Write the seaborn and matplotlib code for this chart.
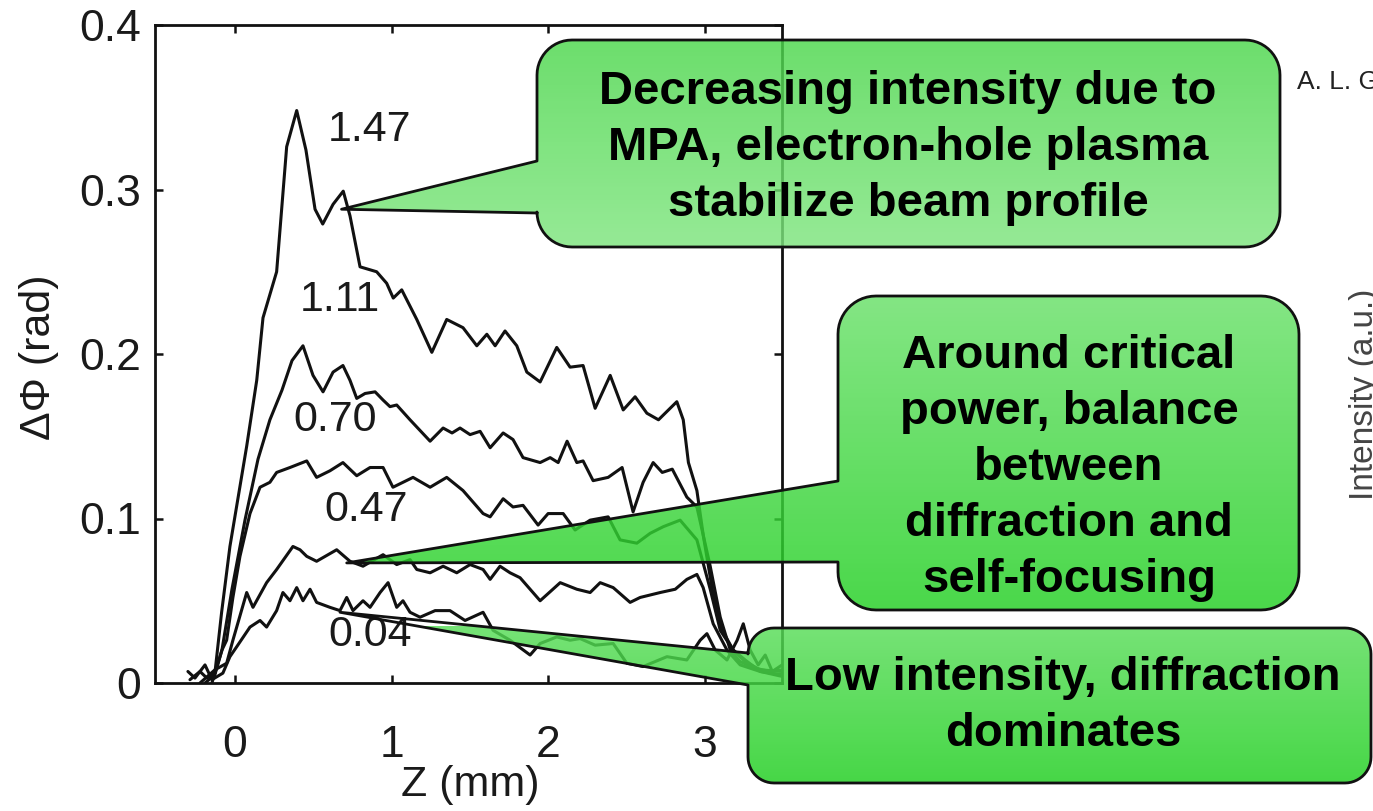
import numpy as np
import pandas as pd
import matplotlib
matplotlib.use("Agg")
import matplotlib.pyplot as plt
from matplotlib.path import Path
from matplotlib.patches import PathPatch
import seaborn as sns

# ---- data: axial position Z (mm) and nonlinear phase shift (rad) per input power ----
z_147 = [-0.287, -0.223, -0.179, -0.128, -0.085, -0.032, 0.075, 0.139, 0.179, 0.266, 0.330, 0.394,
         0.453, 0.511, 0.560, 0.626, 0.691, 0.734, 0.798, 0.904, 0.968, 1.010, 1.064, 1.160, 1.256,
         1.351, 1.455, 1.543, 1.607, 1.660, 1.723, 1.798, 1.862, 1.947, 2.053, 2.138, 2.221, 2.298,
         2.394, 2.477, 2.553, 2.628, 2.702, 2.819, 2.860, 2.893, 2.947, 2.989, 3.045, 3.109, 3.179,
         3.255, 3.351, 3.491]
phi_147 = [0.002, 0.007, 0.003, 0.006, 0.043, 0.083, 0.144, 0.184, 0.222, 0.250, 0.326, 0.348,
           0.324, 0.288, 0.279, 0.291, 0.299, 0.284, 0.253, 0.250, 0.243, 0.234, 0.239, 0.221, 0.201,
           0.221, 0.216, 0.205, 0.212, 0.205, 0.214, 0.205, 0.189, 0.183, 0.204, 0.192, 0.193, 0.167,
           0.187, 0.166, 0.174, 0.164, 0.160, 0.171, 0.160, 0.134, 0.117, 0.089, 0.057, 0.032, 0.020,
           0.014, 0.007, 0.005]

z_111 = [-0.147, -0.083, -0.019, 0.064, 0.147, 0.223, 0.300, 0.364, 0.434, 0.498, 0.562, 0.626,
         0.689, 0.734, 0.777, 0.830, 0.894, 0.945, 0.989, 1.032, 1.117, 1.245, 1.328, 1.385, 1.436,
         1.500, 1.564, 1.628, 1.711, 1.774, 1.838, 1.947, 2.011, 2.062, 2.119, 2.181, 2.221, 2.285,
         2.381, 2.470, 2.540, 2.604, 2.668, 2.726, 2.790, 2.883, 2.947, 3.032, 3.096, 3.160, 3.223,
         3.319, 3.415, 3.491]
phi_111 = [0.000, 0.020, 0.057, 0.099, 0.136, 0.160, 0.178, 0.196, 0.205, 0.187, 0.177, 0.189,
           0.193, 0.184, 0.173, 0.176, 0.177, 0.172, 0.168, 0.169, 0.160, 0.147, 0.155, 0.152, 0.155,
           0.151, 0.153, 0.143, 0.152, 0.148, 0.137, 0.134, 0.137, 0.134, 0.147, 0.134, 0.135, 0.123,
           0.125, 0.131, 0.104, 0.122, 0.134, 0.128, 0.130, 0.113, 0.107, 0.071, 0.040, 0.020, 0.013,
           0.009, 0.007, 0.008]

z_070 = [-0.191, -0.128, -0.083, -0.053, -0.013, 0.032, 0.096, 0.160, 0.223, 0.266, 0.351, 0.458,
         0.521, 0.606, 0.689, 0.777, 0.862, 0.945, 1.008, 1.136, 1.245, 1.351, 1.455, 1.583, 1.628,
         1.711, 1.774, 1.838, 1.934, 1.998, 2.094, 2.170, 2.266, 2.381, 2.457, 2.564, 2.649, 2.732,
         2.840, 2.947, 3.032, 3.096, 3.179, 3.255, 3.351, 3.491]
phi_070 = [0.000, 0.005, 0.020, 0.026, 0.052, 0.077, 0.103, 0.119, 0.122, 0.128, 0.131, 0.135,
           0.125, 0.129, 0.134, 0.126, 0.131, 0.131, 0.119, 0.125, 0.119, 0.125, 0.117, 0.103, 0.101,
           0.112, 0.107, 0.108, 0.096, 0.103, 0.103, 0.093, 0.099, 0.101, 0.087, 0.085, 0.091, 0.095,
           0.099, 0.087, 0.057, 0.032, 0.020, 0.013, 0.008, 0.007]

z_047 = [-0.223, -0.128, -0.053, -0.013, 0.075, 0.115, 0.202, 0.266, 0.370, 0.415, 0.458, 0.521,
         0.649, 0.734, 0.817, 0.945, 1.032, 1.117, 1.160, 1.245, 1.328, 1.415, 1.500, 1.583, 1.628,
         1.691, 1.755, 1.819, 1.947, 2.075, 2.181, 2.266, 2.330, 2.413, 2.521, 2.585, 2.713, 2.809,
         2.883, 2.947, 2.987, 3.051, 3.139, 3.223, 3.351, 3.491]
phi_047 = [0.000, 0.008, 0.012, 0.026, 0.055, 0.046, 0.061, 0.069, 0.083, 0.081, 0.077, 0.074,
           0.081, 0.074, 0.071, 0.078, 0.072, 0.075, 0.069, 0.067, 0.071, 0.067, 0.072, 0.069, 0.063,
           0.071, 0.067, 0.064, 0.050, 0.061, 0.057, 0.055, 0.061, 0.058, 0.049, 0.052, 0.055, 0.057,
           0.063, 0.066, 0.058, 0.036, 0.020, 0.011, 0.007, 0.004]

z_004 = [-0.300, -0.255, -0.191, -0.147, -0.077, -0.032, 0.011, 0.096, 0.160, 0.202, 0.266, 0.306,
         0.351, 0.394, 0.434, 0.479, 0.521, 0.606, 0.670, 0.713, 0.753, 0.817, 0.862, 0.926, 0.977,
         1.032, 1.072, 1.117, 1.181, 1.277, 1.372, 1.468, 1.583, 1.647, 1.755, 1.883, 1.947, 2.053,
         2.138, 2.202, 2.298, 2.413, 2.500, 2.604, 2.756, 2.883, 2.968, 3.011, 3.064, 3.139, 3.204,
         3.243, 3.287, 3.338, 3.383, 3.428, 3.491]
phi_004 = [0.007, 0.003, 0.011, 0.002, 0.006, 0.016, 0.022, 0.034, 0.038, 0.034, 0.044, 0.055,
           0.050, 0.058, 0.050, 0.057, 0.049, 0.046, 0.044, 0.052, 0.044, 0.050, 0.046, 0.055, 0.061,
           0.046, 0.050, 0.043, 0.040, 0.044, 0.044, 0.038, 0.043, 0.032, 0.026, 0.017, 0.024, 0.028,
           0.026, 0.027, 0.023, 0.024, 0.012, 0.010, 0.016, 0.014, 0.026, 0.030, 0.020, 0.014, 0.026,
           0.036, 0.020, 0.011, 0.017, 0.007, 0.011]

power_labels = ["1.47", "1.11", "0.70", "0.47", "0.04"]
x_ticks = [0, 1, 2, 3]
y_ticks = [0, 0.1, 0.2, 0.3, 0.4]
y_ticklabels = ["0", "0.1", "0.2", "0.3", "0.4"]

callout_texts = [
    "Decreasing intensity due to\nMPA, electron-hole plasma\nstabilize beam profile",
    "Around critical\npower, balance\nbetween\ndiffraction and\nself-focusing",
    "Low intensity, diffraction\ndominates",
]

# ---- assemble long-form table ----
series = [(z_147, phi_147), (z_111, phi_111), (z_070, phi_070), (z_047, phi_047), (z_004, phi_004)]
frames = []
for lab, (z, p) in zip(power_labels, series):
    frames.append(pd.DataFrame({"Z": z, "phi": p, "power": lab}))
df = pd.concat(frames, ignore_index=True)

# ---- style ----
sns.set_theme(style="ticks")
plt.rcParams["font.family"] = ["Liberation Sans", "DejaVu Sans"]

W, H = 1373, 811
fig = plt.figure(figsize=(W / 100, H / 100), dpi=100)
fig.patch.set_facecolor("white")

ax = fig.add_axes([155 / W, (H - 683) / H, (782 - 155) / W, (683 - 25) / H])
ax.set_zorder(1)
ax.set_facecolor("white")

for lab in power_labels:
    sns.lineplot(data=df[df["power"] == lab], x="Z", y="phi", color="#111111",
                 linewidth=2.2, sort=False, estimator=None, ax=ax, legend=False)
for ln in ax.get_lines():
    ln.set_solid_joinstyle("round")

ax.set_xlim(-0.51, 3.49)
ax.set_ylim(0, 0.4)
ax.set_xticks(x_ticks)
ax.set_xticklabels([str(t) for t in x_ticks])
ax.set_yticks(y_ticks)
ax.set_yticklabels(y_ticklabels)
for s in ax.spines.values():
    s.set_visible(True)
    s.set_linewidth(2.0)
    s.set_color("#111111")
ax.tick_params(direction="in", length=6, width=1.8, top=True, right=True,
               labelsize=32, colors="#111111", labelcolor="#1a1a1a")
ax.tick_params(axis="x", pad=30)
ax.tick_params(axis="y", pad=10)

ax.set_xlabel("Z (mm)", fontsize=31, color="#1a1a1a")
ax.set_ylabel("ΔΦ (rad)", fontsize=31, color="#1a1a1a")
ax.xaxis.set_label_coords(0.502, -0.125)
ax.yaxis.set_label_coords(-0.153, 0.495)

# power labels next to each curve
label_pos = [(0.86, 0.336), (0.67, 0.233), (0.64, 0.160), (0.84, 0.105), (0.86, 0.029)]
for lab, (lx, ly) in zip(power_labels, label_pos):
    ax.text(lx, ly, lab, fontsize=31, color="#1a1a1a", ha="center", va="center")

# ---- overlay for callouts (pixel coordinates, origin bottom-left) ----
ov = fig.add_axes([0, 0, 1, 1])
ov.set_zorder(2)
ov.patch.set_alpha(0)
ov.set_axis_off()
ov.set_autoscale_on(False)
ov.set_xlim(0, W)
ov.set_ylim(0, H)


def callout_path(L, T, R, B, r, w_hi, w_lo, tip):
    """Rounded rectangle (top-origin px box) with a wedge on its left edge."""
    yt, yb = H - T, H - B
    verts = [(L + r, yt), (R - r, yt)]

    def arc(cx, cy, a0, a1):
        a = np.radians(np.linspace(a0, a1, 14))
        return list(zip(cx + r * np.cos(a), cy + r * np.sin(a)))

    verts += arc(R - r, yt - r, 90, 0)
    verts += arc(R - r, yb + r, 0, -90)
    verts += arc(L + r, yb + r, -90, -180)
    verts += [(L, H - w_lo), tuple(tip), (L, H - w_hi)]
    verts += arc(L + r, yt - r, 180, 90)
    verts.append(verts[0])
    codes = [Path.MOVETO] + [Path.LINETO] * (len(verts) - 2) + [Path.CLOSEPOLY]
    return Path(verts, codes)


def shade(rgb, a):
    rgb = np.asarray(rgb, dtype=float)
    return np.clip((rgb - (1 - a) * 255) / a, 0, 255) / 255


ALPHA = 0.82
boxes = [
    # L, T, R, B, radius, wedge top, wedge bottom, tip (data), top colour, bottom colour, text centre
    (537, 40, 1280, 247, 35, 161, 213, (0.68, 0.288), (108, 222, 108), (150, 234, 150), (908, 148)),
    (838, 296, 1299, 610, 38, 481, 562, (0.713, 0.073), (132, 230, 132), (74, 216, 74), (1069, 468)),
    (748, 628, 1371, 783, 26, 653, 685, (0.670, 0.043), (118, 227, 118), (70, 215, 70), (1063, 706)),
]

for (L, T, R, B, r, whi, wlo, tip_d, ctop, cbot, tc), txt in zip(boxes, callout_texts):
    tip = ax.transData.transform(tip_d)
    path = callout_path(L, T, R, B, r, whi, wlo, tip)
    clip = PathPatch(path, facecolor="none", edgecolor="none", transform=ov.transData)
    ov.add_patch(clip)
    n = 256
    t = np.linspace(0, 1, n)[:, None]
    top, bot = shade(ctop, ALPHA), shade(cbot, ALPHA)
    img = np.zeros((n, 1, 4))
    img[:, 0, :3] = top * (1 - t) + bot * t
    img[:, 0, 3] = ALPHA
    x0 = min(L, tip[0]) - 2
    im = ov.imshow(img, extent=(x0, R + 2, H - B - 2, H - T + 2), origin="upper",
                   aspect="auto", interpolation="bilinear", zorder=2)
    im.set_clip_path(clip)
    ov.add_patch(PathPatch(path, facecolor="none", edgecolor="#111111", linewidth=2.0,
                           joinstyle="round", zorder=3))
    ov.text(tc[0], H - tc[1], txt, ha="center", va="center", multialignment="center",
            fontsize=34, fontweight="bold", color="black", linespacing=1.36, zorder=4)

ov.set_xlim(0, W)
ov.set_ylim(0, H)

# fragments of the neighbouring panel, running off the right edge
fig.text(1297 / W, 1 - 82 / H, "A. L. Gaeta", fontsize=19, color="#222222",
         ha="left", va="center")
fig.text(1349 / W, 1 - 500 / H, "Intensity (a.u.)", fontsize=24, color="#444444",
         rotation=90, ha="left", va="bottom")

fig.savefig("out.png", dpi=100, facecolor="white")
